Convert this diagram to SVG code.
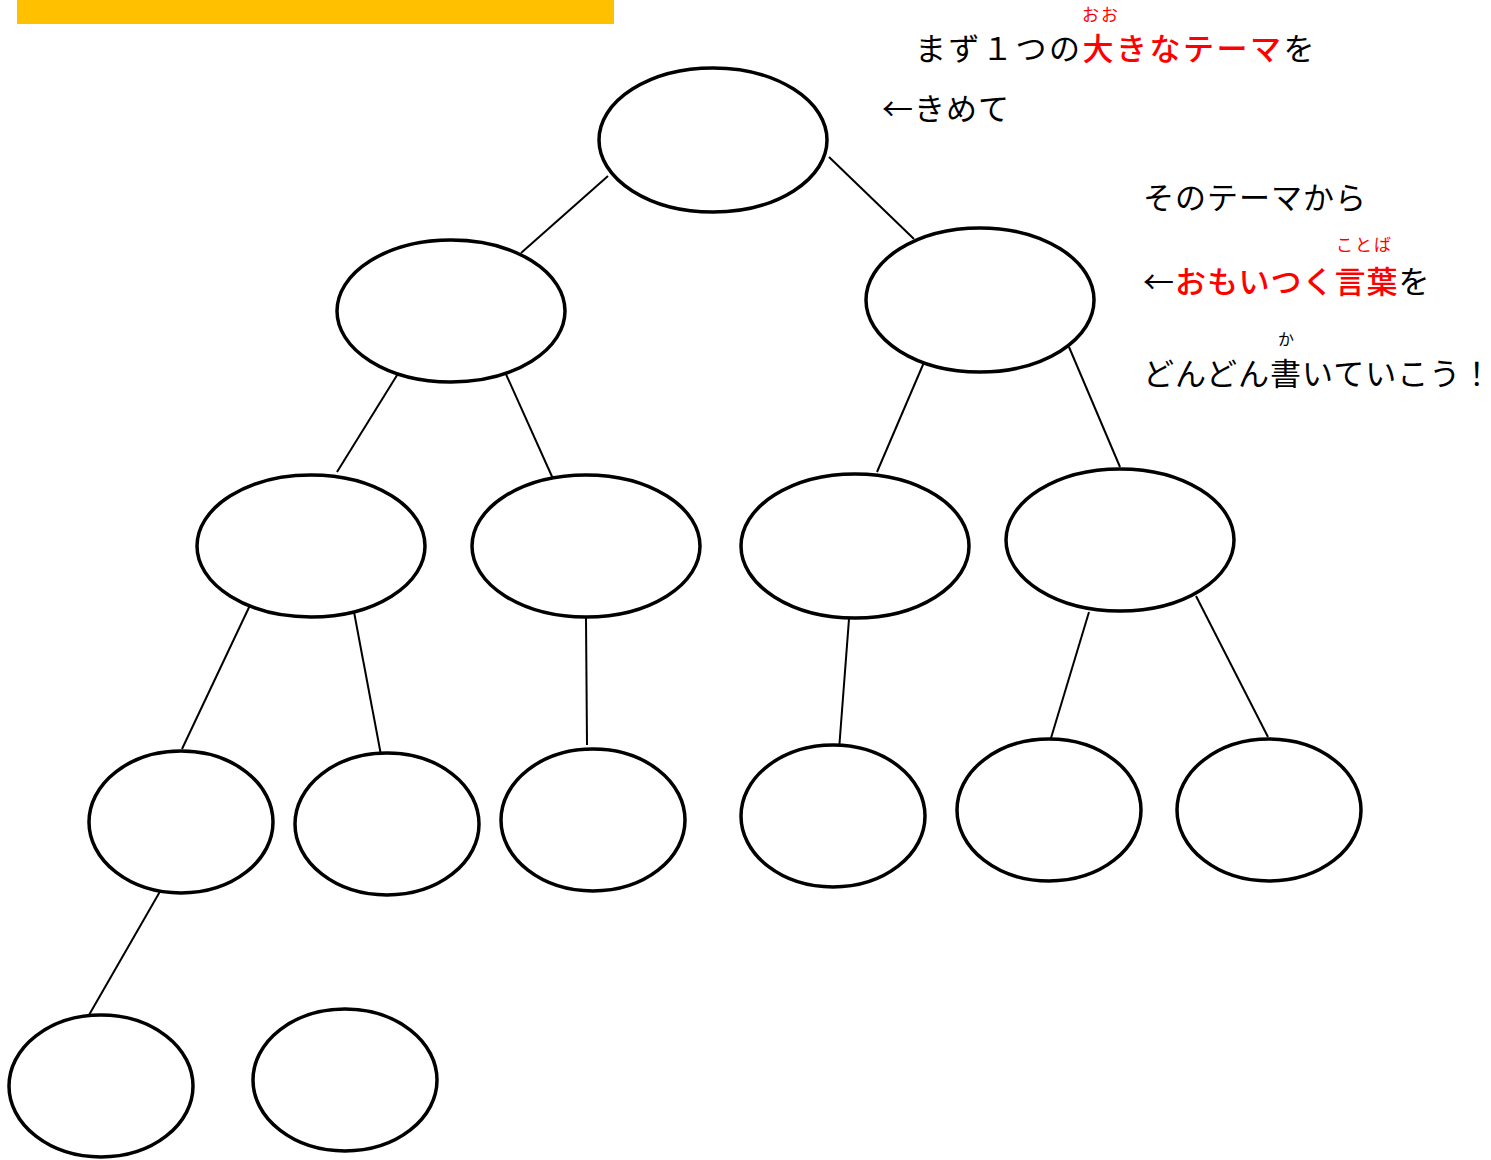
<svg xmlns="http://www.w3.org/2000/svg" width="1491" height="1160" viewBox="0 0 1491 1160">
<style>
.n{fill:#fff;stroke:#000;stroke-width:3.5}
.c line{stroke:#000;stroke-width:2}
text{font-family:"Noto Sans CJK JP","Noto Sans",sans-serif;font-size:31px;fill:#000;letter-spacing:1px}
.r{fill:#f00;font-weight:500}
.rb{font-size:17px;fill:#f00;letter-spacing:2px}
.rk{font-size:16px;fill:#000}
</style>
<rect x="17" y="0" width="597" height="24" fill="#FFC000"/>
<g class="c" id="connectors">
<line x1="608" y1="176" x2="521" y2="253"/>
<line x1="829" y1="157" x2="914" y2="239"/>
<line x1="399" y1="372" x2="337" y2="472"/>
<line x1="505" y1="372" x2="554" y2="481"/>
<line x1="925" y1="360" x2="877" y2="472"/>
<line x1="1069" y1="347" x2="1120" y2="467"/>
<line x1="252" y1="601" x2="182" y2="749"/>
<line x1="354" y1="612" x2="381" y2="755"/>
<line x1="586" y1="618" x2="587" y2="745"/>
<line x1="849" y1="619" x2="839" y2="750"/>
<line x1="1089" y1="612" x2="1051" y2="738"/>
<line x1="1196" y1="596" x2="1268" y2="737"/>
<line x1="162" y1="888" x2="89" y2="1015"/>
</g>
<g id="n1"><ellipse class="n" cx="713" cy="140" rx="114" ry="72"/></g>
<g id="n2"><ellipse class="n" cx="451" cy="311" rx="114" ry="71"/></g>
<g id="n3"><ellipse class="n" cx="980" cy="300" rx="114" ry="72"/></g>
<g id="n4"><ellipse class="n" cx="311" cy="546" rx="114" ry="71"/></g>
<g id="n5"><ellipse class="n" cx="586" cy="546" rx="114" ry="71"/></g>
<g id="n6"><ellipse class="n" cx="855" cy="546" rx="114" ry="72"/></g>
<g id="n7"><ellipse class="n" cx="1120" cy="540" rx="114" ry="71"/></g>
<g id="n8"><ellipse class="n" cx="181" cy="822" rx="92" ry="71"/></g>
<g id="n9"><ellipse class="n" cx="387" cy="824" rx="92" ry="71"/></g>
<g id="n10"><ellipse class="n" cx="593" cy="820" rx="92" ry="71"/></g>
<g id="n11"><ellipse class="n" cx="833" cy="816" rx="92" ry="71"/></g>
<g id="n12"><ellipse class="n" cx="1049" cy="810" rx="92" ry="71"/></g>
<g id="n13"><ellipse class="n" cx="1269" cy="810" rx="92" ry="71"/></g>
<g id="n14"><ellipse class="n" cx="101" cy="1086" rx="92" ry="71"/></g>
<g id="n15"><ellipse class="n" cx="345" cy="1080" rx="92" ry="71"/></g>
<g id="notes">
<text class="rb" x="1082" y="21">おお</text>
<text x="915" y="60" style="letter-spacing:2.5px">まず１つの<tspan class="r">大きなテーマ</tspan>を</text>
<text x="882" y="120">←きめて</text>
<text x="1143" y="209">そのテーマから</text>
<text class="rb" x="1336" y="251">ことば</text>
<text x="1143" y="293">←<tspan class="r">おもいつく言葉</tspan>を</text>
<text class="rk" x="1278" y="345">か</text>
<text x="1143" y="385">どんどん書いていこう！</text>
</g>
</svg>
